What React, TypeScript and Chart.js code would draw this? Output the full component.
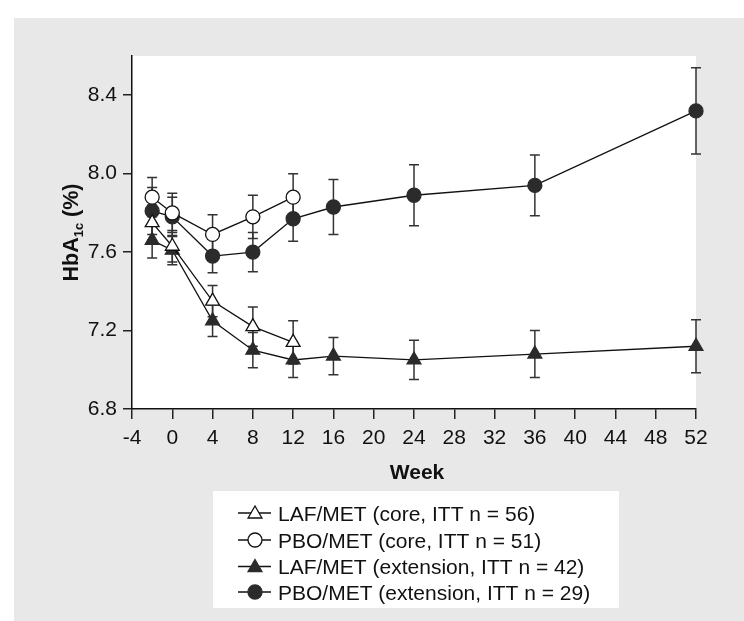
import React, { useEffect, useRef } from 'react';
import { Chart, registerables } from 'chart.js';
Chart.register(...registerables);

// ---- data ----
const weeksCore = [-2, 0, 4, 8, 12];
const weeksExt = [-2, 0, 4, 8, 12, 16, 24, 36, 52];
const lafCore = [7.75, 7.63, 7.35, 7.22, 7.14];
const lafCoreErr = [0.09, 0.08, 0.08, 0.1, 0.11];
const pboCore = [7.88, 7.8, 7.69, 7.78, 7.88];
const pboCoreErr = [0.1, 0.1, 0.1, 0.11, 0.12];
const lafExt = [7.66, 7.61, 7.25, 7.1, 7.05, 7.07, 7.05, 7.08, 7.12];
const lafExtErr = [0.09, 0.075, 0.08, 0.09, 0.09, 0.095, 0.1, 0.12, 0.135];
const pboExt = [7.81, 7.78, 7.58, 7.6, 7.77, 7.83, 7.89, 7.94, 8.32];
const pboExtErr = [0.12, 0.1, 0.085, 0.1, 0.115, 0.14, 0.155, 0.155, 0.22];
const yTicks = [6.8, 7.2, 7.6, 8.0, 8.4];
const seriesLabels = [
  'LAF/MET (core, ITT n = 56)',
  'PBO/MET (core, ITT n = 51)',
  'LAF/MET (extension, ITT n = 42)',
  'PBO/MET (extension, ITT n = 29)',
];
const xTitle = 'Week';

const FONT = "'Liberation Sans', Arial, Helvetica, sans-serif";
const DARK = '#2b2b2b';
const LINE = '#111';

function drawMarker(ctx: CanvasRenderingContext2D, style: string, filled: boolean, x: number, y: number, r: number) {
  ctx.save();
  ctx.beginPath();
  if (style === 'triangle') {
    ctx.moveTo(x, y - r);
    ctx.lineTo(x + 0.866 * r, y + 0.5 * r);
    ctx.lineTo(x - 0.866 * r, y + 0.5 * r);
    ctx.closePath();
  } else {
    ctx.arc(x, y, r, 0, Math.PI * 2);
  }
  ctx.fillStyle = filled ? DARK : '#fff';
  ctx.fill();
  ctx.lineWidth = 1.3;
  ctx.strokeStyle = filled ? DARK : LINE;
  ctx.stroke();
  ctx.restore();
}

const bgPlugin = {
  id: 'bg',
  beforeDraw(chart: any) {
    const { ctx, chartArea } = chart;
    ctx.save();
    ctx.fillStyle = '#e8e8e8';
    ctx.fillRect(14, 18, 730, 603);
    ctx.fillStyle = '#fff';
    ctx.fillRect(chartArea.left, chartArea.top, chartArea.right - chartArea.left, chartArea.bottom - chartArea.top);
    ctx.restore();
  },
};

const errPlugin = {
  id: 'errbars',
  beforeDatasetsDraw(chart: any) {
    const { ctx } = chart;
    const ys = chart.scales.y;
    ctx.save();
    ctx.strokeStyle = '#333';
    ctx.lineWidth = 1.5;
    for (let d = chart.data.datasets.length - 1; d >= 0; d--) {
      const ds: any = chart.data.datasets[d];
      const meta = chart.getDatasetMeta(d);
      ds.data.forEach((p: any, i: number) => {
        const e = ds.errors[i];
        const x = meta.data[i].x;
        const y1 = ys.getPixelForValue(p.y + e);
        const y2 = ys.getPixelForValue(p.y - e);
        ctx.beginPath();
        ctx.moveTo(x, y1);
        ctx.lineTo(x, y2);
        ctx.moveTo(x - 5, y1);
        ctx.lineTo(x + 5, y1);
        ctx.moveTo(x - 5, y2);
        ctx.lineTo(x + 5, y2);
        ctx.stroke();
      });
    }
    ctx.restore();
  },
};

const textPlugin = {
  id: 'texts',
  afterDraw(chart: any) {
    const { ctx, chartArea } = chart;
    ctx.save();
    // x title
    ctx.fillStyle = '#111';
    ctx.font = `bold 21px ${FONT}`;
    ctx.textAlign = 'center';
    ctx.textBaseline = 'alphabetic';
    ctx.fillText(xTitle, (chartArea.left + chartArea.right) / 2 + 3, 479);

    // y title with subscript
    const cy = (chartArea.top + chartArea.bottom) / 2;
    ctx.translate(78, cy);
    ctx.rotate(-Math.PI / 2);
    ctx.textAlign = 'left';
    const big = `bold 21.5px ${FONT}`;
    const small = `bold 13px ${FONT}`;
    ctx.font = big;
    const w1 = ctx.measureText('HbA').width;
    const w3 = ctx.measureText(' (%)').width;
    ctx.font = small;
    const w2 = ctx.measureText('1c').width;
    let x0 = -(w1 + w2 + w3) / 2;
    ctx.font = big;
    ctx.fillText('HbA', x0, 0);
    x0 += w1;
    ctx.font = small;
    ctx.fillText('1c', x0, 5);
    x0 += w2;
    ctx.font = big;
    ctx.fillText(' (%)', x0, 0);
    ctx.restore();

    // legend
    ctx.save();
    ctx.fillStyle = '#fff';
    ctx.fillRect(213, 491, 406, 117);
    const rows = [513, 540, 566.5, 592];
    chart.data.datasets.forEach((ds: any, i: number) => {
      const y = rows[i];
      ctx.strokeStyle = LINE;
      ctx.lineWidth = 1.3;
      ctx.beginPath();
      ctx.moveTo(238, y);
      ctx.lineTo(271, y);
      ctx.stroke();
      drawMarker(ctx, ds.pointStyle, ds.filled, 255, y + (ds.pointStyle === 'triangle' ? 1 : 0), ds.pointRadius);
      ctx.fillStyle = '#111';
      ctx.font = `21px ${FONT}`;
      ctx.textAlign = 'left';
      ctx.textBaseline = 'alphabetic';
      ctx.fillText(ds.label, 278, y + 7.6);
    });
    ctx.restore();
  },
};

function mkData(xs: number[], ys: number[]) {
  return xs.map((x, i) => ({ x, y: ys[i] }));
}

function mkSet(label: string, xs: number[], ys: number[], errs: number[], style: string, filled: boolean) {
  const r = style === 'triangle' ? 8 : 7;
  return {
    label,
    data: mkData(xs, ys),
    errors: errs,
    filled,
    borderColor: LINE,
    borderWidth: 1.3,
    backgroundColor: filled ? DARK : '#fff',
    pointStyle: style,
    pointRadius: r,
    pointBackgroundColor: filled ? DARK : '#fff',
    pointBorderColor: filled ? DARK : LINE,
    pointBorderWidth: 1.3,
    tension: 0,
    fill: false,
    clip: false,
  };
}

export default function App() {
  const ref = useRef<HTMLCanvasElement>(null);
  useEffect(() => {
    if (!ref.current) return;
    const chart = new Chart(ref.current, {
      type: 'line',
      data: {
        datasets: [
          mkSet(seriesLabels[0], weeksCore, lafCore, lafCoreErr, 'triangle', false),
          mkSet(seriesLabels[1], weeksCore, pboCore, pboCoreErr, 'circle', false),
          mkSet(seriesLabels[2], weeksExt, lafExt, lafExtErr, 'triangle', true),
          mkSet(seriesLabels[3], weeksExt, pboExt, pboExtErr, 'circle', true),
        ] as any,
      },
      options: {
        animation: false,
        responsive: false,
        layout: { padding: { left: 0, right: 48, top: 56, bottom: 0 } },
        plugins: { legend: { display: false }, tooltip: { enabled: false }, title: { display: false } },
        scales: {
          x: {
            type: 'linear',
            min: -4,
            max: 52,
            ticks: {
              stepSize: 4,
              color: '#111',
              font: { family: FONT, size: 21 },
              padding: 7,
              maxRotation: 0,
              autoSkip: false,
            },
            grid: { display: true, drawOnChartArea: false, drawTicks: true, tickLength: 10, color: '#222', lineWidth: 1.5 },
            border: { display: true, color: '#111', width: 1.5 },
            afterFit: (s: any) => {
              s.height = 212;
            },
          },
          y: {
            type: 'linear',
            min: 6.8,
            max: 8.6,
            afterBuildTicks: (s: any) => {
              s.ticks = yTicks.map((v) => ({ value: v }));
            },
            ticks: {
              color: '#111',
              font: { family: FONT, size: 21 },
              padding: 6,
              callback: (v: any) => Number(v).toFixed(1),
            },
            grid: { display: true, drawOnChartArea: false, drawTicks: true, tickLength: 9, color: '#222', lineWidth: 1.5 },
            border: { display: true, color: '#111', width: 1.5 },
            afterFit: (s: any) => {
              s.width = 132;
            },
          },
        },
      } as any,
      plugins: [bgPlugin, errPlugin, textPlugin],
    });
    return () => chart.destroy();
  }, []);
  return (
    <div style={{ position: 'fixed', left: 0, top: 0, width: 744, height: 621 }}>
      <canvas ref={ref} width={744} height={621} />
    </div>
  );
}
